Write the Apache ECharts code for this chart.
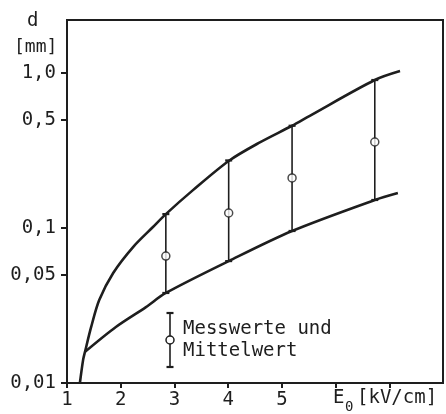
<!DOCTYPE html>
<html>
<head>
<meta charset="utf-8">
<script src="https://cdn.jsdelivr.net/npm/echarts@6/dist/echarts.min.js"></script>
<style>
html,body{margin:0;padding:0;background:#fff;}
#chart{width:446px;height:414px;}
</style>
</head>
<body>
<div id="chart"></div>
<script>
// Upper envelope curve [E0, d]
const upperCurve = [
  [1.24, 0.0100], [1.30, 0.0141], [1.335, 0.0159], [1.45, 0.0230], [1.60, 0.0343],
  [1.86, 0.0513], [2.23, 0.0754], [2.60, 0.1015], [2.84, 0.1230], [3.34, 0.1750],
  [4.01, 0.2710], [4.59, 0.3570], [5.19, 0.4570], [5.52, 0.5300],
  [6.73, 0.9017], [7.20, 1.0300]
];
// Lower envelope curve [E0, d]
const lowerCurve = [
  [1.335, 0.0159], [1.91, 0.0230], [2.47, 0.0309], [2.84, 0.0381],
  [4.01, 0.0612], [5.19, 0.0957], [6.73, 0.1517], [7.16, 0.1683]
];
// Measurements
const barX    = [2.84, 4.01, 5.19, 6.73];
const barLow  = [0.0381, 0.0612, 0.0957, 0.1517];
const barMean = [0.0659, 0.1250, 0.2104, 0.3590];
const barHigh = [0.1230, 0.2730, 0.4570, 0.9017];
// Axis ticks
const yTickValues = [0.01, 0.05, 0.1, 0.5, 1];
const xTickValues = [1, 2, 3, 4, 5, 6, 7];
const xLabelValues = [1, 2, 3, 4, 5];

const INK = '#1e1e1e';
const FONT = '"DejaVu Sans Mono", monospace';

function yLabel(v) {
  if (Math.abs(v - 1) < 1e-9) return '1,0';
  return String(+v.toPrecision(6)).replace('.', ',');
}

const chart = echarts.init(document.getElementById('chart'), null, {renderer: 'canvas'});
const option = {
  animation: false,
  backgroundColor: '#fff',
  grid: {
    left: 67, right: 3, top: 20, bottom: 31,
    show: true, borderColor: INK, borderWidth: 2, backgroundColor: 'transparent'
  },
  xAxis: {
    type: 'value', min: 1, max: 8, interval: 1,
    axisLine: {show: true, lineStyle: {color: INK, width: 2}},
    axisTick: {show: true, inside: false, length: 5, customValues: xTickValues, lineStyle: {color: INK, width: 2}},
    axisLabel: {
      show: true, customValues: xLabelValues, color: INK, fontFamily: FONT, fontSize: 19, margin: 8,
      formatter: v => String(v)
    },
    splitLine: {show: false}
  },
  yAxis: {
    type: 'log', logBase: 10, min: 0.01, max: 2.2,
    axisLine: {show: true, lineStyle: {color: INK, width: 2}},
    axisTick: {show: true, length: 6, customValues: yTickValues, lineStyle: {color: INK, width: 2}},
    axisLabel: {
      show: true, customValues: yTickValues, color: INK, fontFamily: FONT, fontSize: 19, margin: 11,
      formatter: v => yLabel(v)
    },
    splitLine: {show: false},
    minorTick: {show: false}
  },
  series: [
    {
      type: 'line', data: upperCurve, showSymbol: false, symbol: 'none',
      smooth: 0.3,
      lineStyle: {color: INK, width: 2.6}, z: 3
    },
    {
      type: 'line', data: lowerCurve, showSymbol: false, symbol: 'none',
      smooth: 0.3,
      lineStyle: {color: INK, width: 2.6}, z: 3
    },
    {
      type: 'custom',
      data: barX.map((x, i) => [x, barLow[i], barHigh[i]]),
      encode: {x: 0, y: [1, 2]},
      renderItem: function (params, api) {
        const x = api.value(0);
        const p1 = api.coord([x, api.value(1)]);
        const p2 = api.coord([x, api.value(2)]);
        const w = 3.5;
        return {
          type: 'group',
          children: [
            {type: 'line', shape: {x1: p1[0], y1: p1[1], x2: p2[0], y2: p2[1]}, style: {stroke: INK, lineWidth: 1.6}},
            {type: 'line', shape: {x1: p1[0] - w, y1: p1[1], x2: p1[0] + w, y2: p1[1]}, style: {stroke: INK, lineWidth: 2.2}},
            {type: 'line', shape: {x1: p2[0] - w, y1: p2[1], x2: p2[0] + w, y2: p2[1]}, style: {stroke: INK, lineWidth: 2.2}}
          ]
        };
      },
      z: 4
    },
    {
      type: 'scatter',
      data: barX.map((x, i) => [x, barMean[i]]),
      symbol: 'circle', symbolSize: 8,
      itemStyle: {color: '#fff', borderColor: INK, borderWidth: 1.5},
      z: 5
    }
  ],
  graphic: [
    {type: 'text', left: 27, top: 12, style: {text: 'd', font: '19px ' + FONT, fill: INK}},
    {type: 'text', left: 14, top: 38, style: {text: '[mm]', font: '18px ' + FONT, fill: INK}},
    {type: 'text', left: 333, top: 389, style: {text: 'E', font: '19px ' + FONT, fill: INK}},
    {type: 'text', left: 345, top: 400, style: {text: '0', font: '14px ' + FONT, fill: INK}},
    {type: 'text', left: 357, top: 389, style: {text: '[kV/cm]', font: '19px ' + FONT, fill: INK}},
    // legend glyph
    {type: 'line', shape: {x1: 170, y1: 313, x2: 170, y2: 367}, style: {stroke: INK, lineWidth: 1.6}},
    {type: 'line', shape: {x1: 166.5, y1: 313, x2: 173.5, y2: 313}, style: {stroke: INK, lineWidth: 2.2}},
    {type: 'line', shape: {x1: 166.5, y1: 367, x2: 173.5, y2: 367}, style: {stroke: INK, lineWidth: 2.2}},
    {type: 'circle', shape: {cx: 170, cy: 340, r: 4}, style: {fill: '#fff', stroke: INK, lineWidth: 1.5}},
    {type: 'text', left: 183, top: 320, style: {text: 'Messwerte und', font: '19px ' + FONT, fill: INK}},
    {type: 'text', left: 183, top: 342, style: {text: 'Mittelwert', font: '19px ' + FONT, fill: INK}}
  ]
};
chart.setOption(option);
</script>
</body>
</html>
